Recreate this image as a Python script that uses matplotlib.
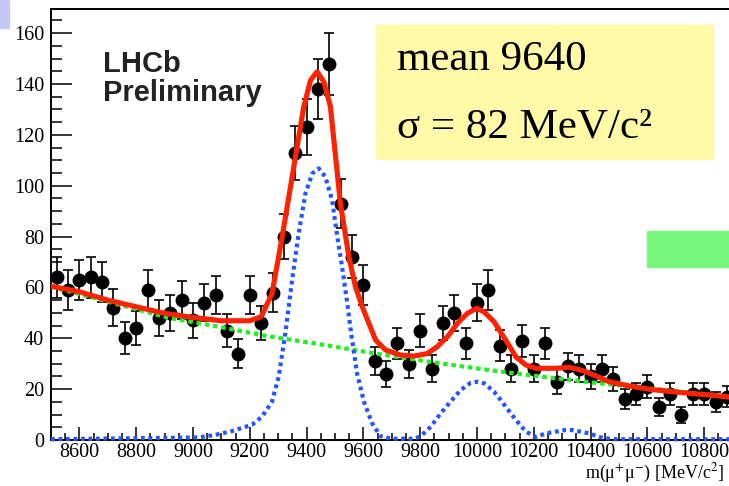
import numpy as np
import matplotlib
matplotlib.use("Agg")
import matplotlib.pyplot as plt
from matplotlib.patches import Rectangle
from matplotlib.ticker import MultipleLocator

# binned dimuon mass data (bin centres in MeV/c^2, entries per 40 MeV bin)
bin_centres = [8520, 8560, 8600, 8640, 8680, 8720, 8760, 8800, 8840, 8880,
               8920, 8960, 9000, 9040, 9080, 9120, 9160, 9200, 9240, 9280,
               9320, 9360, 9400, 9440, 9480, 9520, 9560, 9600, 9640, 9680,
               9720, 9760, 9800, 9840, 9880, 9920, 9960, 10000, 10040, 10080,
               10120, 10160, 10200, 10240, 10280, 10320, 10360, 10400, 10440, 10480,
               10520, 10560, 10600, 10640, 10680, 10720, 10760, 10800, 10840, 10880]
counts = [64, 59, 63, 64, 62, 52, 40, 44, 59, 48,
          50, 55, 47, 54, 57, 43, 34, 57, 46, 58,
          80, 113, 123, 138, 148, 93, 72, 61, 31, 26,
          38, 30, 43, 28, 46, 50, 38, 54, 59, 37,
          28, 39, 28, 38, 23, 29, 28, 25, 28, 24,
          16, 18, 21, 13, 18, 10, 18, 18, 15, 17]

# total fit (red)
fit_mass = [8500, 8600, 8700, 8800, 8900, 9000, 9100, 9200, 9240, 9278,
            9314, 9338, 9363, 9390, 9414, 9437, 9461, 9484, 9519, 9549,
            9572, 9596, 9643, 9678, 9731, 9778, 9825, 9860, 9896, 9931,
            9966, 9999, 10025, 10060, 10101, 10137, 10172, 10207, 10278, 10325,
            10372, 10419, 10466, 10539, 10610, 10681, 10751, 10822, 10892, 10960]
fit_total = [60.5, 58.3, 55.0, 52.4, 49.8, 48.2, 46.9, 46.9, 48.5, 57.5,
             79.9, 96.0, 112.9, 131.0, 141.5, 144.8, 140.8, 131.0, 93.0, 72.0,
             60.3, 52.4, 39.3, 35.4, 33.4, 33.0, 34.0, 36.7, 40.6, 45.9,
             49.8, 51.8, 50.4, 46.5, 39.3, 32.7, 29.5, 28.2, 28.2, 28.6,
             27.3, 25.2, 22.9, 21.2, 19.9, 19.1, 18.3, 17.7, 16.8, 16.2]

# background (green dotted)
bkg_mass = [8500, 8614, 8767, 8908, 9078, 9255, 9466, 9666, 9872, 10084,
            10278, 10489, 10700, 10900, 10960]
bkg = [60.3, 57.0, 52.4, 48.2, 44.8, 41.0, 37.3, 33.6, 30.1, 26.9,
       24.2, 21.6, 19.2, 16.8, 16.2]

# signal peaks (blue dotted)
sig_mass = [8500, 9020, 9078, 9137, 9208, 9243, 9278, 9302, 9325, 9349,
            9372, 9396, 9420, 9443, 9466, 9490, 9508, 9525, 9543, 9558,
            9578, 9602, 9631, 9660, 9700, 9780, 9802, 9837, 9872, 9907,
            9943, 9978, 10002, 10025, 10060, 10084, 10101, 10137, 10172, 10207,
            10240, 10278, 10310, 10337, 10395, 10442, 10489, 10960]
sig = [0.3, 1.0, 2.0, 3.5, 6.0, 9.2, 15.0, 25.0, 41.9, 62.9,
       81.2, 97.0, 104.8, 106.8, 103.5, 94.3, 80.0, 68.0, 54.0, 41.0,
       26.0, 15.0, 6.5, 1.5, 0.5, 0.5, 1.5, 5.2, 10.5, 15.1,
       19.7, 22.5, 22.9, 22.3, 19.0, 15.7, 13.1, 7.9, 3.3, 1.2,
       2.5, 3.3, 3.9, 3.9, 2.6, 0.8, 0.3, 0.3]

x_ticks = [8600, 8800, 9000, 9200, 9400, 9600, 9800, 10000, 10200, 10400, 10600, 10800]


def main():
    plt.rcParams["font.family"] = ["Liberation Serif", "DejaVu Serif"]
    plt.rcParams["mathtext.fontset"] = "stix"

    fig = plt.figure(figsize=(7.29, 4.86), dpi=100)
    # axes run past the right edge, the original picture is cropped there
    ax = fig.add_axes([51 / 729, 46 / 486, 710 / 729, 431 / 486])

    counts_arr = np.array(counts, dtype=float)
    ax.errorbar(bin_centres, counts_arr, yerr=np.sqrt(counts_arr), fmt="o",
                color="black", markersize=9, elinewidth=1.2, capsize=3.8,
                capthick=1.2, zorder=2)

    ax.plot(bkg_mass, bkg, color="#22ee22", lw=3.0,
            linestyle=(0, (1.1, 0.9)), zorder=3)
    ax.plot(sig_mass, sig, color="#2255ff", lw=3.0,
            linestyle=(0, (0.9, 0.9)), zorder=4, clip_on=False)
    ax.plot(fit_mass, fit_total, color="#ff2200", lw=3.7, zorder=5,
            solid_joinstyle="round")

    ax.set_xlim(8500, 11000)
    ax.set_ylim(0, 169.5)
    ax.set_xticks(x_ticks)
    ax.xaxis.set_minor_locator(MultipleLocator(50))
    ax.yaxis.set_major_locator(MultipleLocator(20))
    ax.yaxis.set_minor_locator(MultipleLocator(5))

    ax.tick_params(axis="x", which="major", direction="in", length=9.5,
                   width=1.1, pad=2, labelsize=14.5)
    ax.tick_params(axis="x", which="minor", direction="in", length=5, width=1.1)
    ax.tick_params(axis="y", which="major", direction="in", length=15,
                   width=1.1, pad=5, labelsize=14.5)
    ax.tick_params(axis="y", which="minor", direction="in", length=8, width=1.1)
    for side in ["left", "top", "bottom"]:
        ax.spines[side].set_linewidth(1.4)

    fig.text(724 / 729, (486 - 478) / 486, "m(μ$^{+}$μ$^{-}$) [MeV/c$^{2}$]",
             ha="right", va="baseline", fontsize=13)

    fig.text(103 / 729, (486 - 72) / 486, "LHCb", family="Liberation Sans",
             weight="bold", fontsize=21, color="#222222", va="baseline")
    fig.text(103 / 729, (486 - 101) / 486, "Preliminary", family="Liberation Sans",
             weight="bold", fontsize=21, color="#222222", va="baseline")

    # slide overlays
    fig.add_artist(Rectangle((376 / 729, 327 / 486), 337 / 729, 134 / 486,
                             transform=fig.transFigure, color="#fffaa8", zorder=6))
    fig.text(397 / 729, (486 - 70) / 486, "mean 9640", fontsize=31,
             va="baseline", zorder=7)
    fig.text(397 / 729, (486 - 137) / 486, "σ = 82 MeV/c²", fontsize=31,
             va="baseline", zorder=7)
    fig.add_artist(Rectangle((647 / 729, 219 / 486), 82 / 729, 36 / 486,
                             transform=fig.transFigure, color="#77f77a", zorder=6))
    fig.add_artist(Rectangle((0, 458 / 486), 9 / 729, 28 / 486,
                             transform=fig.transFigure, color="#c8c8f8", zorder=6))

    fig.savefig("out.png", dpi=100)


if __name__ == "__main__":
    main()
